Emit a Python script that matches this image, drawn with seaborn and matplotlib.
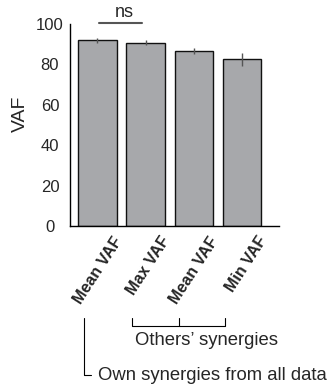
import numpy as np
import pandas as pd
import matplotlib
matplotlib.use("Agg")
import matplotlib.pyplot as plt
import matplotlib.transforms as mtransforms
import seaborn as sns

# Data
conditions = ["Mean VAF", "Max VAF", "Mean VAF ", "Min VAF"]
tick_labels = ["Mean VAF", "Max VAF", "Mean VAF", "Min VAF"]
vaf = [91.9, 90.6, 86.6, 82.5]
vaf_err = [1.3, 1.2, 1.7, 3.2]
yticks = [0, 20, 40, 60, 80, 100]

df = pd.DataFrame({"condition": conditions, "VAF": vaf})

sns.set_style("white")
plt.rcParams["font.family"] = ["Liberation Sans", "DejaVu Sans"]

fig = plt.figure(figsize=(3.3, 3.85), dpi=100)
ax = fig.add_axes([0.212, 0.413, 0.633, 0.525])

sns.barplot(data=df, x="condition", y="VAF", color="#a7a8ab",
            edgecolor="#111111", linewidth=1.0, width=0.8, errorbar=None,
            saturation=1, ax=ax)
ax.errorbar(np.arange(len(vaf)), vaf, yerr=vaf_err, fmt="none",
            ecolor="#555555", elinewidth=1.0, capsize=0)

ax.set_xlim(-0.57, 3.76)
ax.set_ylim(0, 100)
ax.set_yticks(yticks)
ax.tick_params(axis="both", length=0)
ax.tick_params(axis="y", pad=14.4, labelsize=12)
for lbl in ax.get_yticklabels():
    lbl.set_ha("center")
ax.set_ylabel("VAF", fontsize=14)
ax.yaxis.set_label_coords(-0.196, 0.557)
ax.set_xlabel("")
for s in ["top", "right"]:
    ax.spines[s].set_visible(False)
for s in ["left", "bottom"]:
    ax.spines[s].set_color("black")
    ax.spines[s].set_linewidth(1.0)

ax.set_xticks(range(len(tick_labels)))
ax.set_xticklabels(tick_labels, rotation=57, ha="right", va="top",
                   rotation_mode="anchor", fontsize=11.5, fontweight="bold")
ax.tick_params(axis="x", pad=0)
offset = mtransforms.ScaledTranslation(0.15, -0.08, fig.dpi_scale_trans)
for lbl in ax.get_xticklabels():
    lbl.set_transform(lbl.get_transform() + offset)

# ns bar
trans = ax.get_xaxis_transform()
ax.plot([0.03, 0.92], [1.006, 1.006], color="#555555", lw=1.5,
        transform=trans, clip_on=False)
ax.text(0.55, 1.012, "ns", transform=trans, ha="center", va="bottom",
        fontsize=13)

# Others' synergies bracket
yb, yt = -0.495, -0.455
ax.plot([0.71, 0.71, 2.64, 2.64], [yt, yb, yb, yt], color="black", lw=0.8,
        transform=trans, clip_on=False)
ax.plot([1.69, 1.69], [yb, yt], color="black", lw=0.8,
        transform=trans, clip_on=False)
ax.text(0.78, -0.589, "Others\u2019 synergies", transform=trans,
        ha="left", va="baseline", fontsize=13.3)

# Own synergies bracket
ax.plot([-0.28, -0.28, -0.13], [-0.455, -0.738, -0.738], color="black",
        lw=0.8, transform=trans, clip_on=False)
ax.text(0.01, -0.762, "Own synergies from all data", transform=trans,
        ha="left", va="baseline", fontsize=13.3)

fig.savefig("out.png", dpi=100)
